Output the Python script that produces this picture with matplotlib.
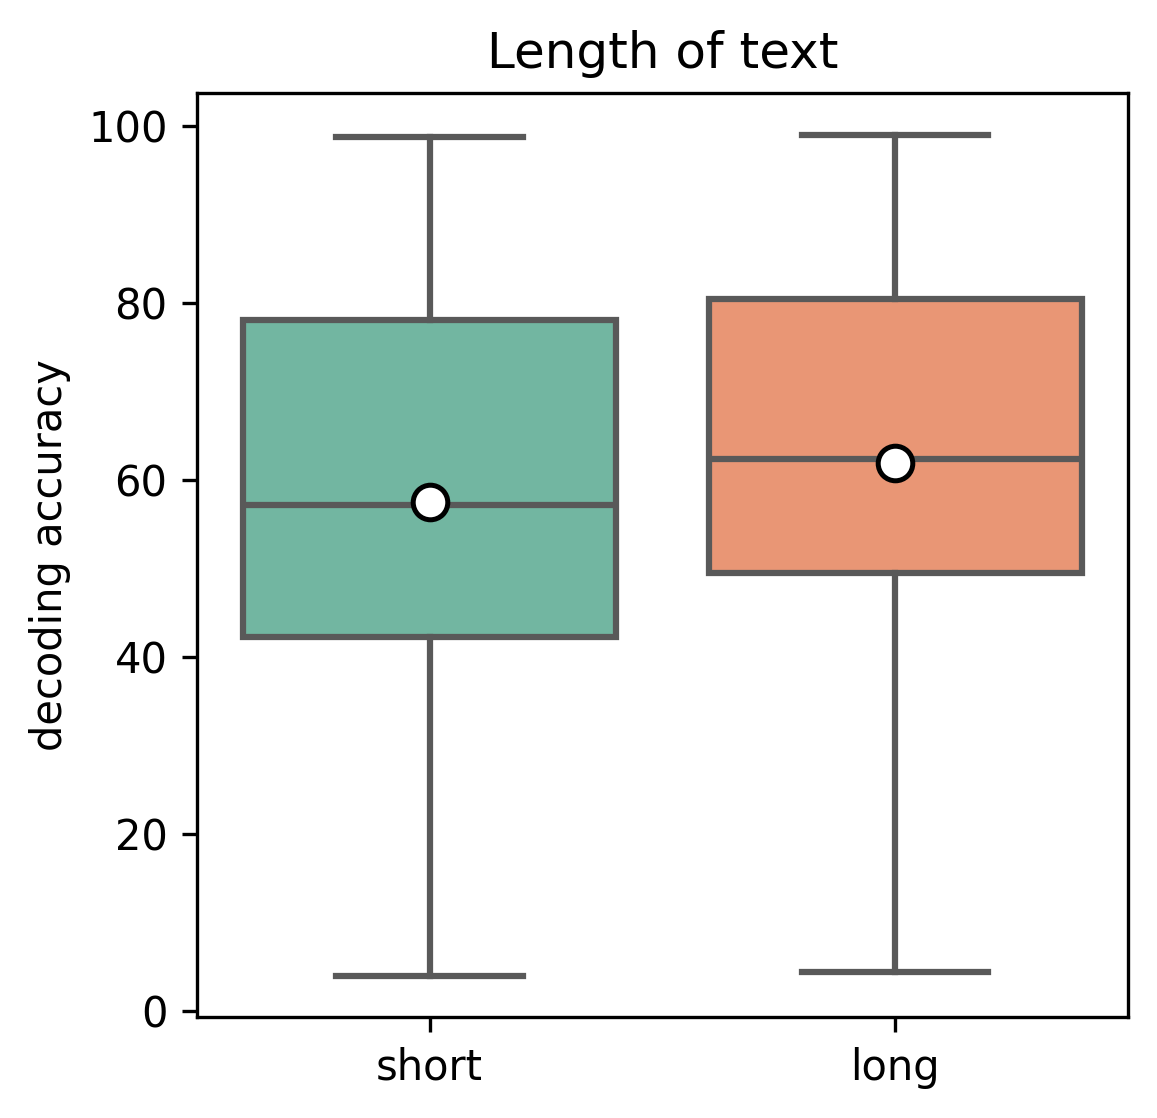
import colorsys
import matplotlib
matplotlib.use("Agg")
import matplotlib.pyplot as plt
import matplotlib.colors as mcolors

# box statistics
labels = ["short", "long"]
whislo = [4.0, 4.4]
q1 = [42.2, 49.5]
med = [57.2, 62.3]
q3 = [78.0, 80.4]
whishi = [98.7, 98.9]
means = [57.5, 61.9]
base_colors = ["#66c2a5", "#fc8d62"]  # Set2


def desaturate(c, prop=0.75):
    r, g, b = mcolors.to_rgb(c)
    h, l, s = colorsys.rgb_to_hls(r, g, b)
    return colorsys.hls_to_rgb(h, l, s * prop)


stats = []
for i in range(len(labels)):
    stats.append(dict(label=labels[i], whislo=whislo[i], q1=q1[i], med=med[i],
                      q3=q3[i], whishi=whishi[i], mean=means[i], fliers=[]))

fig = plt.figure(figsize=(1157 / 300, 1118 / 300), dpi=300)
ax = fig.add_axes([0.170, 0.090, 0.805, 0.827])

line_c = "#595959"
lw = 1.5
bp = ax.bxp(stats, positions=range(len(labels)), widths=0.8, patch_artist=True,
            showmeans=True, showfliers=False,
            boxprops=dict(edgecolor=line_c, linewidth=lw),
            medianprops=dict(color=line_c, linewidth=lw),
            whiskerprops=dict(color=line_c, linewidth=lw),
            capprops=dict(color=line_c, linewidth=lw),
            meanprops=dict(marker="o", markerfacecolor="white",
                           markeredgecolor="black", markersize=8.3,
                           markeredgewidth=1.2))
for patch, c in zip(bp["boxes"], base_colors):
    patch.set_facecolor(desaturate(c))

for cap in bp["caps"]:
    x = cap.get_xdata()
    mid = (x[0] + x[1]) / 2
    cap.set_xdata([mid - 0.2, mid + 0.2])

ax.set_xlim(-0.5, 1.5)
ax.set_ylim(-0.7, 103.7)
ax.set_yticks([0, 20, 40, 60, 80, 100])
ax.set_xticks(range(len(labels)))
ax.set_xticklabels(labels)
ax.tick_params(labelsize=10)
ax.set_ylabel("decoding accuracy", fontsize=10)
ax.set_title("Length of text", fontsize=12)

fig.savefig("out.png", dpi=300)
